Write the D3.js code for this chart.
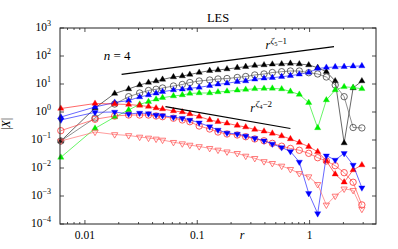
<!DOCTYPE html>
<html>
<head>
<meta charset="utf-8">
<script src="https://cdn.jsdelivr.net/npm/d3@7"></script>
<style>
  body { margin: 0; background: #fff; }
</style>
</head>
<body>
<svg id="chart" width="398" height="249" font-family="'Liberation Serif', 'DejaVu Serif', serif"></svg>
<script>
// separation r = n * 2pi/1024
const r = [0.0061, 0.0123, 0.0184, 0.0245, 0.0307, 0.0368, 0.043, 0.0491, 0.0614, 0.0736,
	0.0859, 0.104, 0.129, 0.153, 0.184, 0.227, 0.27, 0.325, 0.393, 0.466,
	0.564, 0.675, 0.81, 0.982, 1.18, 1.41, 1.69, 2.03, 2.44, 2.92]

const blackTri = [0.092, 1.39, 4.58, 6.63, 9.2, 11.3, 12.8, 14.5, 17.8, 19.3,
	21.8, 25.7, 29.9, 31.6, 34.3, 38.2, 41.5, 45.8, 47.7, 50.6,
	51.8, 54, 51.8, 47.7, 38.2, 27.5, 12.8, 0.078, 7.2, 12.8]
const blackCirc = [0.092, 0.61, 1.93, 3.52, 4.77, 5.86, 6.47, 7.2, 8.48, 9.6,
	11.3, 12.8, 13.9, 15.1, 15.7, 17.1, 18.5, 21, 22.8, 25.7,
	27.5, 29.1, 29.1, 25.3, 22.8, 17.8, 9.2, 3.52, 0.28, 0.27]
const blueUp = [0.66, 1.51, 2.18, 2.57, 3.43, 4.05, 4.65, 5.3, 6.1, 6.47,
	7.0, 7.6, 8.7, 9.75, 10.6, 12.1, 12.8, 14.7, 16, 16.8,
	18.2, 19.8, 22.2, 25.7, 35.8, 38.8, 40.5, 41.5, 43.2, 44]
const greenUp = [0.024, 0.26, 0.66, 1.18, 1.88, 2.33, 2.84, 3.24, 3.73, 4.05,
	4.58, 4.77, 4.77, 5.18, 5.49, 5.96, 6.36, 6.74, 6.9, 7.0,
	6.63, 5.4, 4.22, 2.15, 0.27, 2.68, 6.1, 7.94, 7.5, 6.74]
const redTri = [1.33, 2.01, 1.93, 1.85, 1.71, 1.57, 1.39, 1.28, 1.09, 1.0,
	0.85, 0.69, 0.52, 0.45, 0.395, 0.33, 0.29, 0.237, 0.205, 0.173,
	0.139, 0.109, 0.081, 0.058, 0.038, 0.0178, 0.006, 0.0031, 0.0085, 0.0128]
const redCirc = [0.215, 0.55, 0.72, 0.78, 0.78, 0.78, 0.72, 0.68, 0.6, 0.52,
	0.45, 0.316, 0.247, 0.193, 0.164, 0.151, 0.131, 0.109, 0.094, 0.076,
	0.06, 0.05, 0.043, 0.0335, 0.0233, 0.0178, 0.0121, 0.0068, 0.0031, 0.00048]
const blueDown = [0.52, 0.975, 1.0, 0.85, 0.92, 0.88, 0.78, 0.74, 0.65, 0.6,
	0.52, 0.415, 0.3, 0.228, 0.178, 0.164, 0.139, 0.115, 0.094, 0.072,
	0.054, 0.039, 0.0164, 0.00125, 0.000237, 0.0275, 0.0193, 0.0335, 0.0128, 0.00198]
const pinkDown = [0.092, 0.193, 0.157, 0.145, 0.128, 0.118, 0.109, 0.1, 0.083, 0.074,
	0.066, 0.0586, 0.0506, 0.044, 0.038, 0.0335, 0.0268, 0.0222, 0.0171, 0.0147,
	0.0118, 0.009, 0.0064, 0.0049, 0.0026, 0.00048, 0.001, 0.0018, 0.0016, 0.00034]

// reference slopes
const slope5R = [0.0212, 1.65]
const slope5V = [22.2, 215]
const slope4R = [0.0521, 0.675]
const slope4V = [1.546, 0.2575]

const xTicks = [0.01, 0.1, 1]
const xTickLabels = ['0.01', '0.1', '1']
const yExps = [-4, -3, -2, -1, 0, 1, 2, 3]

const svg = d3.select('#chart')
const m = { left: 60, right: 376, top: 28, bottom: 224 }
const x = d3.scaleLog().domain([0.006, 3.9]).range([m.left, m.right])
const y = d3.scaleLog().domain([1e-4, 1e3]).range([m.bottom, m.top])

const series = [
	{ v: blackTri, color: '#000', sym: d3.symbolTriangle, fill: true },
	{ v: blackCirc, color: '#444', sym: d3.symbolCircle, fill: false },
	{ v: blueUp, color: '#0000ff', sym: d3.symbolTriangle, fill: true },
	{ v: greenUp, color: '#00ee00', sym: d3.symbolTriangle, fill: true },
	{ v: redTri, color: '#ff0000', sym: d3.symbolTriangle, fill: true },
	{ v: redCirc, color: '#ff3030', sym: d3.symbolCircle, fill: false },
	{ v: blueDown, color: '#0000ff', sym: d3.symbolTriangle, fill: true, down: true },
	{ v: pinkDown, color: '#ff5a5a', sym: d3.symbolTriangle, fill: false, down: true }
]

// frame ticks
const ticks = svg.append('g').attr('stroke', '#222').attr('stroke-width', 0.8)
const minor = []
for (let e = -3; e <= 0; e++) {
	for (let k = 2; k <= 9; k++) {
		const t = k * Math.pow(10, e)
		if (t > 0.006 && t < 3.9) minor.push(t)
	}
}
minor.forEach(t => {
	ticks.append('line').attr('x1', x(t)).attr('x2', x(t)).attr('y1', m.bottom).attr('y2', m.bottom - 2)
	ticks.append('line').attr('x1', x(t)).attr('x2', x(t)).attr('y1', m.top).attr('y2', m.top + 2)
})
xTicks.forEach(t => {
	ticks.append('line').attr('x1', x(t)).attr('x2', x(t)).attr('y1', m.bottom).attr('y2', m.bottom - 4)
	ticks.append('line').attr('x1', x(t)).attr('x2', x(t)).attr('y1', m.top).attr('y2', m.top + 4)
})
yExps.forEach(e => {
	const yy = y(Math.pow(10, e))
	ticks.append('line').attr('x1', m.left).attr('x2', m.left + 4).attr('y1', yy).attr('y2', yy)
	ticks.append('line').attr('x1', m.right).attr('x2', m.right - 4).attr('y1', yy).attr('y2', yy)
})

// data
const line = d3.line().x(d => x(d[0])).y(d => y(d[1]))
series.forEach(s => {
	const pts = r.map((rv, i) => [rv, s.v[i]])
	const g = svg.append('g')
	g.append('path')
		.attr('d', line(pts))
		.attr('fill', 'none')
		.attr('stroke', s.color)
		.attr('stroke-width', 0.6)
	g.selectAll('path.pt')
		.data(pts)
		.join('path')
		.attr('class', 'pt')
		.attr('d', d3.symbol().type(s.sym).size(s.sym === d3.symbolCircle ? 32 : 17))
		.attr('transform', d => `translate(${x(d[0])},${y(d[1])})` + (s.down ? ' rotate(180)' : ''))
		.attr('fill', s.fill ? s.color : 'none')
		.attr('stroke', s.color)
		.attr('stroke-width', s.fill ? 0.3 : 0.8)
})

// power-law guides
svg.append('path')
	.attr('d', line(slope5R.map((rv, i) => [rv, slope5V[i]])))
	.attr('stroke', '#000').attr('stroke-width', 1.2).attr('fill', 'none')
svg.append('path')
	.attr('d', line(slope4R.map((rv, i) => [rv, slope4V[i]])))
	.attr('stroke', '#000').attr('stroke-width', 1.2).attr('fill', 'none')

const powLabel = (rv, v, sub, rest) => {
	const t = svg.append('text').attr('x', x(rv)).attr('y', y(v)).attr('font-size', 12)
	t.append('tspan').attr('font-style', 'italic').text('r')
	t.append('tspan').attr('font-style', 'italic').attr('font-size', 9).attr('dy', -5).attr('dx', 0.5).text('ζ')
	t.append('tspan').attr('font-size', 6.5).attr('dy', 2).text(sub)
	t.append('tspan').attr('font-size', 9).attr('dy', -2).text(rest)
}
powLabel(0.404, 178, '5', '−1')
powLabel(0.297, 1.0, '4', '−2')

const nl = svg.append('text').attr('x', x(0.0147)).attr('y', y(72)).attr('font-size', 13)
nl.append('tspan').attr('font-style', 'italic').text('n')
nl.append('tspan').text(' = 4')

// frame
svg.append('rect')
	.attr('x', m.left).attr('y', m.top)
	.attr('width', m.right - m.left).attr('height', m.bottom - m.top)
	.attr('fill', 'none').attr('stroke', '#222').attr('stroke-width', 1)

// tick labels
xTicks.forEach((t, i) => {
	svg.append('text').attr('x', x(t)).attr('y', 239).attr('text-anchor', 'middle')
		.attr('font-size', 11.5).text(xTickLabels[i])
})
yExps.forEach(e => {
	const t = svg.append('text').attr('x', 51).attr('y', y(Math.pow(10, e)) + 3)
		.attr('text-anchor', 'end').attr('font-size', 11.5)
	t.append('tspan').text('10')
	t.append('tspan').attr('font-size', 8).attr('dy', -5).text(String(e).replace('-', '−'))
})

// titles
svg.append('text').attr('x', 218).attr('y', 21.5).attr('text-anchor', 'middle')
	.attr('font-size', 12.5).text('LES')
svg.append('text').attr('x', 242).attr('y', 238.5).attr('text-anchor', 'middle')
	.attr('font-size', 12).attr('font-style', 'italic').text('r')
const yl = svg.append('text').attr('transform', 'translate(10,124) rotate(-90)')
	.attr('text-anchor', 'middle').attr('font-size', 12)
yl.append('tspan').text('|')
yl.append('tspan').attr('font-style', 'italic').text('X')
yl.append('tspan').text('|')
</script>
</body>
</html>
